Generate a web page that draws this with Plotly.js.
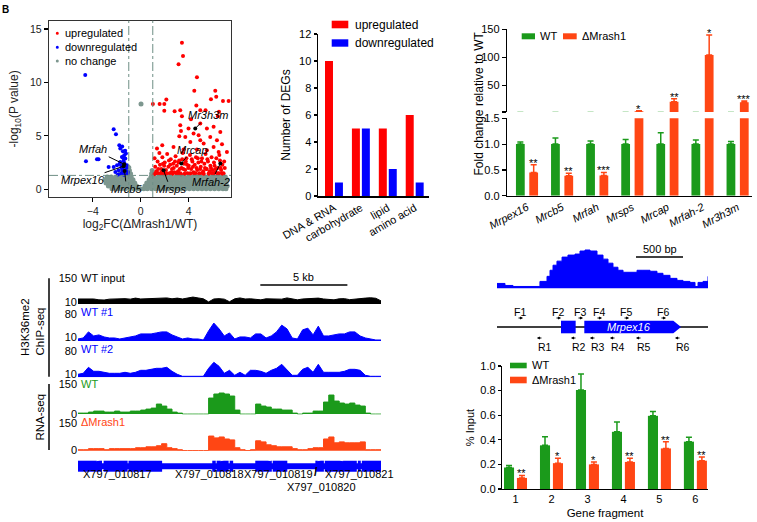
<!DOCTYPE html>
<html><head><meta charset="utf-8">
<script src="https://cdn.plot.ly/plotly-3.0.1.min.js"></script>
<style>html,body{margin:0;padding:0;background:#fff}#chart{width:757px;height:522px}</style>
</head><body><div id="chart"></div>
<script>
// ================= DATA =================
// ---- Panel A: volcano ----
const volcanoLegend = ['upregulated','downregulated','no change'];
const upPts = [
[3.43,13.7],[3.52,12.47],[3.15,11.7],[4.68,10.47],[4.46,9.21],[6.21,9.21],[6.29,8.65],[5.85,8.43],[6.85,8.27],[2.13,8.4],
[1.96,7.97],[1.57,7.97],[1.01,7.97],[1.96,7.34],[4.63,7.84],[4.96,7.4],[2.82,7.31],[3.29,7.4],[5.4,7.4],[6.52,7.25],
[7.32,8.27],[6.43,6.84],[3.43,6.84],[3.29,6.0],[4.18,6.56],[3.35,5.46],[3.98,5.69],[4.96,6.16],[5.51,5.69],[6.07,5.84],
[6.63,5.37],[4.4,5.22],[3.21,4.97],[3.71,4.9],[4.82,5.06],[5.79,4.9],[6.35,4.59],[4.96,4.59],[4.13,4.43],[5.24,4.28],
[6.77,4.22],[6.07,3.96],[1.79,4.12],[1.35,3.81],[2.73,3.96],[3.57,3.72],[4.68,3.72],[5.51,3.65],[6.49,3.5],[7.18,3.5],
[1.1,1.4],[1.2,2.1],[1.3,1.7],[1.4,2.6],[1.5,1.5],[1.6,2.3],[1.7,1.9],[1.8,3.0],[1.9,1.4],[2.0,2.5],
[2.1,1.8],[2.2,3.3],[2.3,2.1],[2.4,1.5],[2.5,2.8],[2.6,1.9],[2.7,2.4],[2.8,1.6],[2.9,3.1],[3.0,2.2],
[3.1,1.7],[3.2,2.7],[3.3,1.5],[3.4,2.0],[3.5,3.4],[3.6,2.4],[3.7,1.8],[3.8,2.9],[3.9,1.5],[4.0,2.2],
[4.1,3.2],[4.2,1.9],[4.3,2.6],[4.4,1.6],[4.5,2.3],[4.6,3.0],[4.7,1.8],[4.8,2.5],[4.9,1.5],[5.0,2.1],
[5.1,2.9],[5.2,1.7],[5.3,2.4],[5.4,3.3],[5.5,1.9],[5.6,2.6],[5.7,1.5],[5.8,2.2],[5.9,3.0],[6.0,1.8],
[6.1,2.5],[6.2,1.6],[6.3,2.9],[6.4,2.0],[6.5,1.5],[6.6,2.7],[6.7,1.8],[6.8,2.3],[6.9,1.5],[7.0,2.0],
[1.15,2.9],[1.35,1.5],[1.55,3.4],[1.75,1.6],[1.95,2.2],[2.15,1.5],[2.35,2.7],[2.55,1.6],[2.75,2.0],[2.95,1.5],
[3.15,2.5],[3.35,1.4],[3.55,1.9],[3.75,2.6],[3.95,2.0],[4.15,1.5],[4.35,2.1],[4.55,1.5],[4.75,2.9],[4.95,1.9],
[5.15,1.5],[5.35,2.0],[5.55,2.8],[5.75,1.7],[5.95,1.5],[6.15,2.2],[6.35,1.5],[6.55,3.2],[6.75,1.5],[6.95,2.6],
[1.25,1.5],[1.45,1.9],[1.65,1.45],[1.85,2.4],[2.05,1.45],[2.45,2.3],[2.65,1.45],[2.85,2.6],[3.05,1.45],[3.25,1.9],
[3.45,2.8],[3.65,1.45],[3.85,2.3],[4.05,1.45],[4.25,2.8],[4.45,1.45],[4.65,2.0],[4.85,1.45],[5.05,2.6],[5.25,1.45],
[5.45,1.9],[5.65,1.45],[5.85,2.0],[6.05,1.45],[6.25,1.9],[6.45,1.45],[6.65,2.0],[6.85,1.45]
];
const downPts = [
[-4.63,10.69],[-2.26,5.62],[-2.07,5.16],[-4.57,2.62],[-3.65,2.81],[-3.52,2.81],[-1.79,4.12],[-1.71,3.81],[-1.49,3.56],[-1.38,3.19],
[-1.57,3.03],[-1.29,2.87],[-1.71,2.56],[-1.35,2.40],[-1.98,2.25],[-1.15,2.25],[-2.26,2.09],[-1.57,1.94],[-1.85,1.78],[-1.29,1.78],
[-1.07,1.62],[-1.63,1.47],[-2.12,1.62],[-1.40,1.35],[-1.90,1.38],[-2.68,2.09],[-1.43,2.62],[-1.24,3.34],[-1.63,2.2],[-1.2,2.0],
[-1.1,1.45],[-1.5,1.7],[-1.75,2.4],[-1.3,3.6],[-1.55,4.0],[-1.45,2.9]
];
const grayRowsY = [0.05,0.3,0.6,0.9,1.15,1.45,1.75,2.05];
const grayRowsX = [
 [-2.4,-2.0,-1.65,-1.3,-0.95,-0.6,-0.3,-0.05,0.25,0.55,0.9,1.25,1.6,1.95,2.3,2.65,3.0,3.35,3.7,4.05,4.4,4.75,5.1,5.45,5.8,6.15,6.5,6.85,7.1],
 [-2.7,-2.35,-2.0,-1.65,-1.3,-0.95,-0.6,-0.35,0.35,0.6,0.95,1.3,1.65,2.0,2.35,2.7,3.05,3.4,3.75,4.1,4.45,4.8,5.15,5.5,5.85,6.2,6.55,6.9,7.2],
 [-2.9,-2.55,-2.2,-1.85,-1.5,-1.15,-0.8,-0.5,0.5,0.8,1.15,1.5,1.85,2.2,2.55,2.9,3.25,3.6,3.95,4.3,4.65,5.0,5.35,5.7,6.05,6.4,6.75,7.1],
 [-3.0,-2.65,-2.3,-1.95,-1.6,-1.25,-0.9,-0.65,0.7,0.95,1.3,1.65,2.0,2.35,2.7,3.05,3.4,3.75,4.1,4.45,4.8,5.15,5.5,5.85,6.2,6.55,6.9,7.2],
 [-2.8,-2.45,-2.1,-1.75,-1.4,-1.05,-0.8,0.85,1.15,1.5,1.85,2.2,2.55,2.9,3.25,3.6,3.95,4.3,4.65,5.0,5.35,5.7,6.05,6.4,6.75,7.05],
 [-1.7,-1.35,-1.0,-0.85,0.9,1.0],
 [-1.5,-1.2,-0.95,0.95],
 [-1.25,-1.0]
];
const grayExtra = [[0.02,7.97]];
const hlNames = ['Mr3h3m','Mrcap','Mrfah','Mrpex16','Mrcb5','Mrsps','Mrfah-2'];
const hlX = [4.54,3.38,-1.38,-1.43,-1.35,1.9,6.63];
const hlY = [5.69,2.41,2.34,2.16,1.72,1.78,2.41];
const fcCut = 1, pCut = 1.3;

// ---- Panel B: DEG categories ----
const degCats = ['DNA & RNA','carbohydrate','lipid','amino acid'];
const degUp = [10,5,5,6];
const degDown = [1,5,2,1];
const degLegend = ['upregulated','downregulated'];

// ---- Panel C: qPCR fold change ----
const qGenes = ['Mrpex16','Mrcb5','Mrfah','Mrsps','Mrcap','Mrfah-2','Mr3h3m'];
const qWT = [1,1,1,1,1,1,1];
const qWTErr = [0.04,0.12,0.06,0.09,0.22,0.08,0.05];
const qMut = [0.45,0.385,0.39,3.3,20.4,104,19.4];
const qMutErr = [0.15,0.05,0.06,1.0,5.4,36,2.3];
const qStars = ['**','**','***','*','**','*','***'];
const groupNames = ['WT','ΔMrash1'];

// ---- Panel D: genome tracks (kb) ----
const trackKb = [0,0.3,0.6,0.9,1.2,1.5,1.8,2.1,2.4,2.7,3,3.3,3.6,3.9,4.2,4.5,4.8,5.1,5.4,5.7,6,6.3,6.6,6.9,7.2,7.5,7.8,8.1,8.4,8.7,9,9.3,9.6,9.9,10.2,10.5,10.8,11.1,11.4,11.7,12,12.3,12.6,12.9,13.2,13.5,13.8,14.1,14.4,14.7,15,15.3,15.6,15.9,16.2,16.5,16.8,17.1,17.4];
const sigInput = [29,30,28,29,24,23,28,30,29,31, 28,34,29,30,28,29,31,35,30,34, 29,36,40,35,30,12,29,31,28,13, 30,35,29,30,28,24,30,29,31,28, 35,30,24,29,31,30,34,29,28,24, 30,31,25,29,30,34,36,33,18];
const sigWT1 = [6,9,27,15,18,12,9,9,6,9, 12,15,21,21,21,24,27,27,18,12, 6,9,6,6,3,30,53,36,15,24, 6,12,12,9,21,21,9,15,27,47, 36,9,6,33,38,18,44,15,15,18, 21,21,27,27,15,9,6,3,3];
const sigWT2 = [9,12,30,18,18,15,12,12,12,15, 12,15,21,21,24,27,27,30,18,9, 3,3,3,3,3,27,45,33,12,21, 6,15,6,21,21,18,12,21,27,39, 24,6,6,24,30,15,39,15,15,15, 15,18,24,24,21,6,3,3,3];
const rnaWT = [5,5,10,15,15,10,10,15,10,10, 15,15,20,25,30,50,40,25,10,5, 0,0,0,0,0,80,100,105,100,90, 20,0,0,0,50,40,35,25,25,20, 20,5,0,5,5,15,15,60,95,65, 55,50,55,45,40,5,0,0,0];
const rnaMut = [5,5,11,11,11,5,11,11,11,11, 11,16,16,21,21,27,38,16,11,5, 0,0,0,0,0,80,70,75,64,59, 16,5,0,5,54,48,32,27,21,21, 21,11,5,5,11,16,16,64,75,43, 48,43,43,43,48,5,5,5,5];
const trackNames = ['WT input','WT #1','WT #2','WT','ΔMrash1'];
const geneSpanKb = [0,17.42];
const geneExonKb = [[0,1.38],[1.47,2.85],[2.90,4.83],[7.71,7.91],[7.96,8.65],[8.71,8.91],[10.18,11.13],[11.18,12.02],[13.63,14.12],[14.17,16.01],[16.07,16.24],[16.30,17.42]];
const strandKb = [1.15,8.28,10.93,13.86,15.07];
const strandDir = ['&gt;','&gt;','&lt;','&gt;','&lt;'];
const geneIds = ['X797_010817','X797_010818','X797_010819','X797_010821','X797_010820'];
const geneIdKb = [2.24,7.53,11.5,16.16,13.97];
const scaleKb = [10.47,15.47];

// ---- Panel E: Mrpex16 locus (bp) ----
const covBp = [0,85,170,457,532,564,596,638,692,755,830,883,936,990,1064,1128,1181,1234,1287,1341,1415,1490,1553,1628,1702,1766,1841,1915,1979,2053,2107,2139,2192,2245];
const covVal = [5,3,2,7,12,18,23,27,31,33,34,37,38,37,33,29,25,21,18,16,16,18,18,17,15,13,10,8,7,6,2,6,7,12];
const locusBp = [0,2245];
const exon1Bp = [681,837];
const exon2Bp = [929,1876,1958];
const primerF = ['F1','F2','F3','F4','F5','F6'];
const primerFbp = [245,649,883,1085,1373,1766];
const primerR = ['R1','R2','R3','R4','R5','R6'];
const primerRbp = [457,819,1021,1234,1511,1926];
const scaleBp = [1479,1979];

// ---- Panel F: ChIP-qPCR ----
const fragCats = ['1','2','3','4','5','6'];
const chipWT = [0.175,0.355,0.805,0.465,0.595,0.385];
const chipWTErr = [0.017,0.07,0.13,0.08,0.035,0.035];
const chipMut = [0.09,0.21,0.20,0.22,0.33,0.23];
const chipMutErr = [0.02,0.04,0.02,0.03,0.055,0.03];
const chipStars = ['**','*','*','**','**','**'];

// ================= STYLE / LAYOUT =================
const W = 757, H = 522;
const px = v => v / W, py = v => 1 - v / H;
const FONT = 'Arial, "Liberation Sans", sans-serif';
const RED = '#ff0000', BLUE = '#0000ff', GRAY = '#7d978f';
const GREEN = '#1b9a1b', ORANGE = '#ff4614';

function ax(extra) {
  return Object.assign({showgrid:false, zeroline:false, showline:true, linecolor:'#000', linewidth:1.2,
    ticks:'outside', ticklen:4, tickwidth:1.2, tickcolor:'#000', tickfont:{size:11,color:'#000'},
    fixedrange:true, automargin:false}, extra);
}
function trackAx(dom, range, tv) {
  return {domain:[py(dom[0]),py(dom[1])], range:range, anchor:'x5', showgrid:false, zeroline:false,
    showline:false, ticks:'', tickvals:tv, tickfont:{size:11,color:'#000'}, fixedrange:true};
}

const traces = [];
// Panel A
const gx = [], gy = [];
grayRowsX.forEach((row,i)=>row.forEach(x=>{gx.push(x); gy.push(grayRowsY[i]);}));
grayExtra.forEach(p=>{gx.push(p[0]); gy.push(p[1]);});
traces.push({type:'scatter',mode:'markers',name:volcanoLegend[2],x:gx,y:gy,xaxis:'x',yaxis:'y',
  marker:{color:GRAY,size:5},showlegend:false,hoverinfo:'skip'});
traces.push({type:'scatter',mode:'markers',name:volcanoLegend[0],x:upPts.map(p=>p[0]),y:upPts.map(p=>p[1]),xaxis:'x',yaxis:'y',
  marker:{color:RED,size:4},showlegend:false});
traces.push({type:'scatter',mode:'markers',name:volcanoLegend[1],x:downPts.map(p=>p[0]),y:downPts.map(p=>p[1]),xaxis:'x',yaxis:'y',
  marker:{color:BLUE,size:4},showlegend:false});
traces.push({type:'scatter',mode:'markers',name:'highlighted',x:hlX,y:hlY,text:hlNames,xaxis:'x',yaxis:'y',
  marker:{color:'#000',size:4},showlegend:false});

// Panel B
traces.push({type:'bar',name:degLegend[0],x:degCats,y:degUp,xaxis:'x2',yaxis:'y2',marker:{color:RED},width:0.297,offset:-0.335,showlegend:false});
traces.push({type:'bar',name:degLegend[1],x:degCats,y:degDown,xaxis:'x2',yaxis:'y2',marker:{color:BLUE},width:0.297,offset:0.035,showlegend:false});

// Panel C (broken axis: lower y3, upper y4)
const zeros7 = qGenes.map(()=>0);
['y3','y4'].forEach(ya=>{
  traces.push({type:'bar',name:groupNames[0],x:qGenes,y:qWT,xaxis:'x3',yaxis:ya,marker:{color:GREEN},width:0.25,offset:-0.315,
    error_y:{type:'data',symmetric:false,array:qWTErr,arrayminus:zeros7,color:GREEN,thickness:1.5,width:3},showlegend:false});
  traces.push({type:'bar',name:groupNames[1],x:qGenes,y:qMut,xaxis:'x3',yaxis:ya,marker:{color:ORANGE},width:0.25,offset:0.065,
    error_y:{type:'data',symmetric:false,array:qMutErr,arrayminus:zeros7,color:ORANGE,thickness:1.5,width:3},showlegend:false});
});

// Panel D tracks
const trackSpec = [
  {y:sigInput,ya:'y5',c:'#000',shape:'linear'},
  {y:sigWT1,ya:'y6',c:BLUE,shape:'linear'},
  {y:sigWT2,ya:'y7',c:BLUE,shape:'linear'},
  {y:rnaWT,ya:'y8',c:GREEN,shape:'hv'},
  {y:rnaMut,ya:'y9',c:ORANGE,shape:'hv'}
];
trackSpec.forEach((t,i)=>traces.push({type:'scatter',mode:'lines',name:trackNames[i],x:trackKb,y:t.y,xaxis:'x5',yaxis:t.ya,
  fill:'tozeroy',fillcolor:t.c,line:{color:t.c,width:1,shape:t.shape},showlegend:false,hoverinfo:'skip'}));

// Panel E coverage
traces.push({type:'scatter',mode:'lines',name:'H3K36me2 coverage',x:covBp,y:covVal,xaxis:'x6',yaxis:'y10',
  fill:'tozeroy',fillcolor:BLUE,line:{color:BLUE,width:1,shape:'hv'},showlegend:false,hoverinfo:'skip'});

// Panel F
const zeros6 = fragCats.map(()=>0);
traces.push({type:'bar',name:groupNames[0],x:fragCats,y:chipWT,xaxis:'x7',yaxis:'y11',marker:{color:GREEN},width:0.28,offset:-0.32,
  error_y:{type:'data',symmetric:false,array:chipWTErr,arrayminus:zeros6,color:GREEN,thickness:1.5,width:3},showlegend:false});
traces.push({type:'bar',name:groupNames[1],x:fragCats,y:chipMut,xaxis:'x7',yaxis:'y11',marker:{color:ORANGE},width:0.28,offset:0.04,
  error_y:{type:'data',symmetric:false,array:chipMutErr,arrayminus:zeros6,color:ORANGE,thickness:1.5,width:3},showlegend:false});

// ---------- shapes ----------
const shapes = [];
const vLine = {color:'#6e8e85',width:1,dash:'dashdot'};
[-fcCut, fcCut].forEach(v=>shapes.push({type:'line',xref:'x',yref:'y domain',x0:v,x1:v,y0:0,y1:1,line:vLine,layer:'above'}));
shapes.push({type:'line',xref:'x domain',yref:'y',x0:0,x1:1,y0:pCut,y1:pCut,line:vLine,layer:'above'});
// volcano legend dots
[[RED,33.3],[BLUE,47.3],[GRAY,61]].forEach(d=>shapes.push({type:'circle',xref:'paper',yref:'paper',
  x0:px(55.8),x1:px(58.8),y0:py(d[1]+1.5),y1:py(d[1]-1.5),fillcolor:d[0],line:{width:0}}));
// B legend rects
[[RED,20.7,28.3],[BLUE,39.3,46.7]].forEach(d=>shapes.push({type:'rect',xref:'paper',yref:'paper',
  x0:px(331.7),x1:px(348.3),y0:py(d[2]),y1:py(d[1]),fillcolor:d[0],line:{width:0}}));
// C legend rects
[[GREEN,521.7,535],[ORANGE,563,576.7]].forEach(d=>shapes.push({type:'rect',xref:'paper',yref:'paper',
  x0:px(d[1]),x1:px(d[2]),y0:py(39.3),y1:py(33.3),fillcolor:d[0],line:{width:0}}));
// F legend rects
[[GREEN,362.7,368.3],[ORANGE,376.7,383.3]].forEach(d=>shapes.push({type:'rect',xref:'paper',yref:'paper',
  x0:px(510),x1:px(526.7),y0:py(d[2]),y1:py(d[1]),fillcolor:d[0],line:{width:0}}));
// D: bracket lines
shapes.push({type:'line',xref:'paper',yref:'paper',x0:px(49),x1:px(49),y0:py(278.3),y1:py(376.7),line:{color:'#000',width:1.5}});
shapes.push({type:'line',xref:'paper',yref:'paper',x0:px(49),x1:px(49),y0:py(384),y1:py(450),line:{color:'#000',width:1.5}});
// D: scale bar
shapes.push({type:'line',xref:'x5',yref:'paper',x0:scaleKb[0],x1:scaleKb[1],y0:py(285),y1:py(285),line:{color:'#000',width:1.5}});
// D: gene model
shapes.push({type:'rect',xref:'x5',yref:'paper',x0:geneSpanKb[0],x1:geneSpanKb[1],y0:py(469.3),y1:py(463.3),fillcolor:BLUE,line:{width:0}});
geneExonKb.forEach(e=>shapes.push({type:'rect',xref:'x5',yref:'paper',x0:e[0],x1:e[1],y0:py(471.7),y1:py(460.7),fillcolor:BLUE,line:{width:0}}));
// E: scale bar, locus line, exons
shapes.push({type:'line',xref:'x6',yref:'paper',x0:scaleBp[0],x1:scaleBp[1],y0:py(257),y1:py(257),line:{color:'#000',width:1.5}});
shapes.push({type:'line',xref:'x6',yref:'paper',x0:locusBp[0],x1:locusBp[1],y0:py(327),y1:py(327),line:{color:'#000',width:1.5}});
shapes.push({type:'rect',xref:'x6',yref:'paper',x0:exon1Bp[0],x1:exon1Bp[1],y0:py(333.3),y1:py(320.7),fillcolor:BLUE,line:{width:0}});
shapes.push({type:'path',xref:'x6',yref:'paper',
  path:`M${exon2Bp[0]},${py(320.7)} L${exon2Bp[1]},${py(320.7)} L${exon2Bp[2]},${py(327)} L${exon2Bp[1]},${py(333.3)} L${exon2Bp[0]},${py(333.3)} Z`,
  fillcolor:BLUE,line:{width:0}});

// ---------- annotations ----------
const ann = [];
function txt(text, x, y, o) {
  ann.push(Object.assign({text:text,x:x,y:y,xref:'paper',yref:'paper',showarrow:false,
    font:{size:11,color:'#000',family:FONT},xanchor:'center',yanchor:'middle'}, o||{}));
}
txt('<b>B</b>', px(5.5), py(9.5), {font:{size:10,color:'#000'}});
// A legend
volcanoLegend.forEach((t,i)=>txt(t, px(63), py([33.3,47.3,61][i]), {xanchor:'left'}));
// A gene labels
const hlOff = [[13,-13],[11,-14],[-31,-15],[-41,14],[2,18],[7,19],[-9,18]];
hlNames.forEach((n,i)=>ann.push({text:n,x:hlX[i],y:hlY[i],xref:'x',yref:'y',showarrow:true,arrowhead:0,arrowwidth:1,
  arrowcolor:'#000',ax:hlOff[i][0],ay:hlOff[i][1],standoff:1,font:{size:11,color:'#000',style:'italic'}}));
// B legend
degLegend.forEach((t,i)=>txt(t, px(353), py([24.7,43.3][i]), {xanchor:'left',font:{size:12,color:'#000'}}));
// C legend + title + stars
txt(groupNames[0], px(538), py(36.3), {xanchor:'left'});
txt(groupNames[1], px(580), py(36.3), {xanchor:'left'});
txt('Fold change relative to WT', px(478.5), py(103), {textangle:-90, font:{size:12,color:'#000'}});
qStars.forEach((s,i)=>ann.push({text:s,x:i+0.19,y:qMut[i]+qMutErr[i],xref:'x3',yref:(qMut[i]>1.5?'y4':'y3'),showarrow:false,
  yanchor:'middle',yshift:2,font:{size:11,color:'#000'}}));
// D labels
txt('H3K36me2', px(25), py(327), {textangle:-90, font:{size:11.5,color:'#000'}});
txt('ChIP-seq', px(39.5), py(332), {textangle:-90, font:{size:11.5,color:'#000'}});
txt('RNA-seq', px(39.5), py(417), {textangle:-90, font:{size:11.5,color:'#000'}});
const tnY = [278, 312, 349, 384, 422];
const tnC = ['#000', BLUE, BLUE, GREEN, ORANGE];
trackNames.forEach((t,i)=>txt(t, px(79), py(tnY[i]), {xanchor:'left', font:{size:11,color:tnC[i]}}));
ann.push({text:'5 kb',x:(scaleKb[0]+scaleKb[1])/2,y:py(277),xref:'x5',yref:'paper',showarrow:false,font:{size:11,color:'#000'}});
strandKb.forEach((k,i)=>ann.push({text:strandDir[i],x:k,y:py(466.3),xref:'x5',yref:'paper',showarrow:false,font:{size:9,color:'#fff'}}));
geneIds.forEach((g,i)=>ann.push({text:g,x:geneIdKb[i],y:py(i===4?495:481.5),xref:'x5',yref:'paper',showarrow:false,font:{size:11,color:'#000'}}));
ann.push({text:'<b>/</b>',x:13.66,y:py(481),xref:'x5',yref:'paper',showarrow:false,font:{size:12,color:'#000'}});
// E labels
ann.push({text:'500 bp',x:(scaleBp[0]+scaleBp[1])/2,y:py(249),xref:'x6',yref:'paper',showarrow:false,font:{size:11,color:'#000'}});
ann.push({text:'Mrpex16',x:(exon2Bp[0]+exon2Bp[1])/2,y:py(327),xref:'x6',yref:'paper',showarrow:false,font:{size:11,color:'#fff',style:'italic'}});
primerF.forEach((p,i)=>{
  ann.push({text:p,x:primerFbp[i],y:py(311.7),xref:'x6',yref:'paper',showarrow:false,font:{size:10.5,color:'#000'}});
  ann.push({text:'',x:primerFbp[i],y:py(318),xref:'x6',yref:'paper',showarrow:true,arrowhead:2,arrowsize:0.6,arrowwidth:1,
    arrowcolor:'#000',ax:-6,ay:0,xshift:3,standoff:0});
});
primerR.forEach((p,i)=>{
  ann.push({text:p,x:primerRbp[i],y:py(347),xref:'x6',yref:'paper',showarrow:false,xshift:5,font:{size:10.5,color:'#000'}});
  ann.push({text:'',x:primerRbp[i],y:py(338),xref:'x6',yref:'paper',showarrow:true,arrowhead:2,arrowsize:0.6,arrowwidth:1,
    arrowcolor:'#000',ax:6,ay:0,xshift:-3,standoff:0});
});
// F legend + stars
txt(groupNames[0], px(530), py(365.3), {xanchor:'left'});
txt(groupNames[1], px(530), py(380.3), {xanchor:'left'});
chipStars.forEach((s,i)=>ann.push({text:s,x:i+0.18,y:chipMut[i]+chipMutErr[i],xref:'x7',yref:'y11',showarrow:false,
  yanchor:'middle',yshift:2,font:{size:11,color:'#000'}}));

const layout = {
  width:W, height:H, margin:{l:0,r:0,t:0,b:0}, paper_bgcolor:'#fff', plot_bgcolor:'rgba(0,0,0,0)',
  font:{family:FONT,color:'#000',size:11}, showlegend:false,
  // A
  xaxis: ax({domain:[px(49),px(231)], range:[-7.65,7.52], tickvals:[-4,0,4], mirror:true, linecolor:'#333', anchor:'y',
    ticklen:4, tickfont:{size:10.5,color:'#222'},
    title:{text:'log<sub>2</sub>FC(ΔMrash1/WT)', font:{size:12,color:'#222'}, standoff:3}}),
  yaxis: ax({domain:[py(197),py(20.7)], range:[-0.72,15.77], tickvals:[0,5,10,15], mirror:true, linecolor:'#333', anchor:'x',
    ticklen:4, tickfont:{size:10.5,color:'#222'},
    title:{text:'-log<sub>10</sub>(P value)', font:{size:12,color:'#222'}, standoff:8}}),
  // B
  xaxis2: ax({domain:[px(318),px(429)], type:'category', range:[-0.595,3.53], ticks:'', tickangle:-30, anchor:'y2', linewidth:1.5}),
  yaxis2: ax({domain:[py(196),py(34)], range:[0,12], dtick:2, anchor:'x2', ticklen:3, linewidth:1.5, tickwidth:1.5,
    title:{text:'Number of DEGs', font:{size:12}, standoff:6}}),
  // C
  xaxis3: ax({domain:[px(507),px(752)], type:'category', range:[-0.57,6.41], ticks:'', tickangle:-28, anchor:'y3',
    tickfont:{size:11,color:'#000',style:'italic'}}),
  yaxis3: ax({domain:[py(195.7),py(118.3)], range:[0,1.5], tickvals:[0,0.5,1,1.5], ticktext:['0.0','0.5','1.0','1.5'], anchor:'x3'}),
  yaxis4: ax({domain:[py(112),py(29.3)], range:[2,150], tickvals:[2,50,100,150], ticktext:['','50','100','150'], anchor:'x3'}),
  // D
  xaxis5: {domain:[px(78),px(381)], range:[0,17.4], visible:false, anchor:'y9', fixedrange:true},
  yaxis5: trackAx([304,278],[0,150],[10,150]),
  yaxis6: trackAx([341,314],[0,80],[10,80]),
  yaxis7: trackAx([377.3,350.7],[0,80],[10,80]),
  yaxis8: trackAx([414.5,384],[-2,150],[0,150]),
  yaxis9: trackAx([451,423.3],[-2,150],[0,150]),
  // E
  xaxis6: {domain:[px(497),px(708)], range:[0,2245], visible:false, anchor:'y10', fixedrange:true},
  yaxis10: {domain:[py(288.5),py(249)], range:[0,39], visible:false, anchor:'x6', fixedrange:true},
  // F
  xaxis7: ax({domain:[px(502),px(708)], type:'category', range:[-0.375,5.35], ticks:'', anchor:'y11',
    title:{text:'Gene fragment', font:{size:11.5}, standoff:4}}),
  yaxis11: ax({domain:[py(489),py(366)], range:[0,1], dtick:0.2, tickformat:'.1f', anchor:'x7', ticklen:3,
    title:{text:'% Input', font:{size:11}, standoff:3}}),
  shapes:shapes, annotations:ann
};

Plotly.newPlot('chart', traces, layout, {displayModeBar:false, staticPlot:true});
</script></body></html>
